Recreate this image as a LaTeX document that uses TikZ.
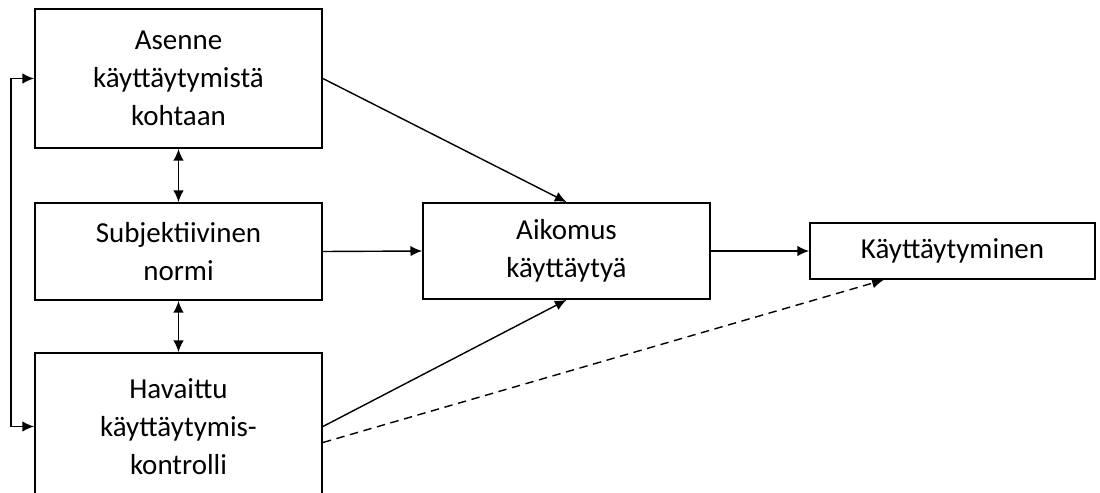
\documentclass[tikz,border=0pt]{standalone}
\usepackage{fontspec}
\setmainfont{Carlito}
\usetikzlibrary{arrows.meta,positioning,calc}

\begin{document}
\begin{tikzpicture}[
  every node/.style={font=\fontsize{20.6}{27}\selectfont},
  factor/.style={draw=black,line width=1.3pt,fill=white,align=center,inner sep=0pt,
    minimum width=7.175cm},
  arr/.style={-{Latex[length=2.9mm,width=2.6mm]},line width=1pt},
  darr/.style={{Latex[length=2.9mm,width=2.6mm]}-{Latex[length=2.9mm,width=2.6mm]},line width=1pt}
]
  \useasboundingbox (0,0) rectangle (27.5,-12.325);

  \node[factor,minimum height=3.475cm] (asenne) at (4.4625,-1.9625)
    {Asenne\\käyttäytymistä\\kohtaan};
  \node[factor,minimum height=2.425cm] (normi) at (4.4625,-6.2875)
    {Subjektiivinen\\normi};
  \node[factor,minimum height=3.675cm] (kontrolli) at (4.4625,-10.6625)
    {Havaittu\\käyttäytymis-\\kontrolli};
  \node[factor,minimum height=2.4cm] (aikomus) at (14.1625,-6.275)
    {Aikomus\\käyttäytyä};
  \node[factor,minimum width=7.125cm,minimum height=1.4cm] (kaytos) at (23.8125,-6.275)
    {Käyttäytyminen};

  \draw[darr] (asenne.south) -- (normi.north);
  \draw[darr] (normi.south) -- (kontrolli.north);
  \draw[darr] (asenne.west) -- ++(-0.575,0) |- (kontrolli.west);

  \draw[arr] (asenne.east) -- (aikomus.north);
  \draw[arr] (normi.east) -- (aikomus.west);
  \draw[arr] (kontrolli.east) -- (aikomus.south);
  \draw[arr] (aikomus.east) -- (kaytos.west);
  \draw[arr,dashed,dash pattern=on 6pt off 4pt]
    ([yshift=-0.4cm]kontrolli.east) -- ($(kaytos.south west)!0.26!(kaytos.south east)$);
\end{tikzpicture}
\end{document}
